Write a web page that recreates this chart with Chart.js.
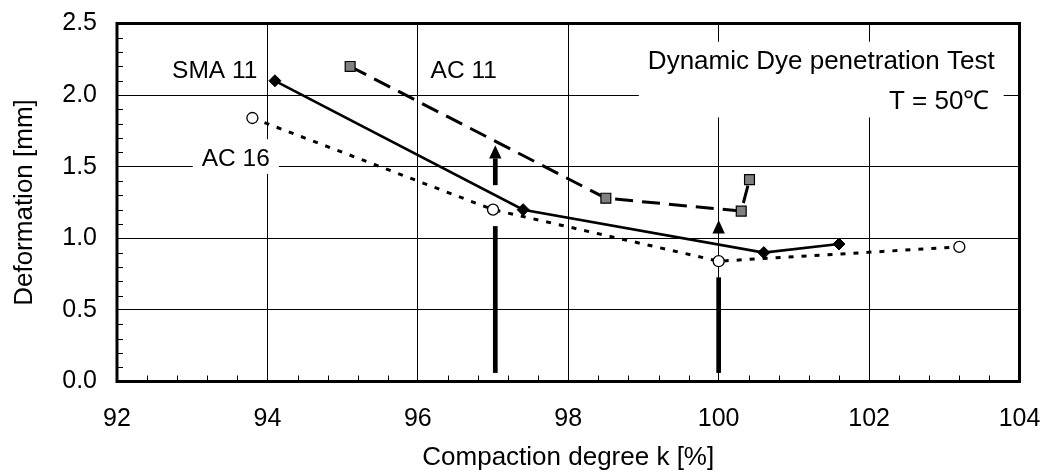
<!DOCTYPE html>
<html>
<head>
<meta charset="utf-8">
<title>Dynamic Dye penetration Test</title>
<script src="https://cdn.jsdelivr.net/npm/chart.js@4.4.1/dist/chart.umd.min.js"></script>
<style>
  html, body { margin: 0; padding: 0; background: #fff; }
  #wrap { width: 1043px; height: 472px; position: relative; }
</style>
</head>
<body>
<div id="wrap"><canvas id="deform_canvas"></canvas></div>
<script>
// values
var smaK   = [94.1, 97.4, 100.6, 101.6];
var smaDef = [2.10, 1.20, 0.90, 0.96];
var ac11K   = [95.1, 98.5, 100.3, 100.41];
var ac11Def = [2.20, 1.28, 1.19, 1.41];
var ac16K   = [93.8, 97.0, 100.0, 103.2];
var ac16Def = [1.84, 1.20, 0.84, 0.94];

var xTicks = [92, 94, 96, 98, 100, 102, 104];
var yTicks = [0.0, 0.5, 1.0, 1.5, 2.0, 2.5];

// the two upward arrows (k, foot, gap start, gap end, head base, tip)
var arrowK        = [97.03, 100.0];
var arrowFoot     = [0.06, 0.06];
var arrowGapLow   = [1.085, 0.727];
var arrowGapHigh  = [1.371, 1.034];
var arrowHeadBase = [1.558, 1.034];
var arrowTip      = [1.650, 1.127];

// text notes inside the plot
var noteText  = ['SMA 11', 'AC 11', 'AC 16', 'Dynamic Dye penetration Test', 'T = 50\u2103'];
var noteK     = [93.30, 96.61, 93.58, 103.67, 103.60];
var noteDef   = [2.116, 2.116, 1.506, 2.179, 1.900];
var noteAlign = ['center', 'center', 'center', 'right', 'right'];
var noteGroup = [0, 1, 2, 3, 3];

var FONT = '"Liberation Sans", Arial, sans-serif';
var noteSize = [24.5, 24.5, 24.5, 26, 26];

function pts(xs, ys) {
    var out = [];
    for (var i = 0; i < xs.length; i++) {
        out.push({x: xs[i], y: ys[i]});
    }
    return out;
}

var notesPlugin = {
    id: 'notes',
    beforeDatasetsDraw: function(chart) {
        var ctx = chart.ctx, sx = chart.scales.x, sy = chart.scales.y;
        var boxes = {};
        ctx.save();
        for (var i = 0; i < noteText.length; i++) {
            ctx.font = noteSize[i] + 'px ' + FONT;
            var w = ctx.measureText(noteText[i]).width;
            var px = sx.getPixelForValue(noteK[i]);
            var py = sy.getPixelForValue(noteDef[i]);
            var left = noteAlign[i] === 'center' ? px - w / 2 : px - w;
            var b = {l: left - 9, r: left + w + 9, t: py - 0.72 * noteSize[i] - 9, b: py + 8};
            var g = boxes[noteGroup[i]];
            if (!g) {
                boxes[noteGroup[i]] = b;
            } else {
                g.l = Math.min(g.l, b.l); g.r = Math.max(g.r, b.r);
                g.t = Math.min(g.t, b.t); g.b = Math.max(g.b, b.b);
            }
        }
        ctx.fillStyle = '#fff';
        for (var k in boxes) {
            var bb = boxes[k];
            ctx.fillRect(bb.l, bb.t, bb.r - bb.l, bb.b - bb.t);
        }
        ctx.fillStyle = '#000';
        ctx.textBaseline = 'alphabetic';
        for (var j = 0; j < noteText.length; j++) {
            ctx.font = noteSize[j] + 'px ' + FONT;
            ctx.textAlign = noteAlign[j];
            ctx.fillText(noteText[j], sx.getPixelForValue(noteK[j]), sy.getPixelForValue(noteDef[j]));
        }
        ctx.restore();
    }
};

var arrowsPlugin = {
    id: 'arrows',
    afterDatasetsDraw: function(chart) {
        var ctx = chart.ctx, sx = chart.scales.x, sy = chart.scales.y;
        var shaft = 4.7, head = 6.2;
        ctx.save();
        ctx.fillStyle = '#000';
        for (var i = 0; i < arrowK.length; i++) {
            var x = sx.getPixelForValue(arrowK[i]);
            var yFoot = sy.getPixelForValue(arrowFoot[i]);
            var yLow = sy.getPixelForValue(arrowGapLow[i]);
            var yHigh = sy.getPixelForValue(arrowGapHigh[i]);
            var yBase = sy.getPixelForValue(arrowHeadBase[i]);
            var yTip = sy.getPixelForValue(arrowTip[i]);
            ctx.fillRect(x - shaft / 2, yLow, shaft, yFoot - yLow);
            if (yHigh > yBase) {
                ctx.fillRect(x - shaft / 2, yBase, shaft, yHigh - yBase);
            }
            ctx.beginPath();
            ctx.moveTo(x - head, yBase);
            ctx.lineTo(x + head, yBase);
            ctx.lineTo(x, yTip);
            ctx.closePath();
            ctx.fill();
        }
        ctx.restore();
    }
};

var framePlugin = {
    id: 'frame',
    afterDraw: function(chart) {
        var ctx = chart.ctx, a = chart.chartArea;
        var sx = chart.scales.x, sy = chart.scales.y;
        ctx.save();
        // minor ticks, pointing into the plot
        ctx.strokeStyle = '#000';
        ctx.lineWidth = 1;
        ctx.beginPath();
        var v, p;
        for (var i = 1; i < 30; i++) {
            v = xTicks[0] + i * 0.4;
            if (i % 5 === 0) continue;
            p = Math.round(sx.getPixelForValue(v)) + 0.5;
            ctx.moveTo(p, a.bottom);
            ctx.lineTo(p, a.bottom - 6);
        }
        for (var j = 1; j < 25; j++) {
            v = yTicks[0] + j * 0.1;
            if (j % 5 === 0) continue;
            p = Math.round(sy.getPixelForValue(v)) + 0.5;
            ctx.moveTo(a.left, p);
            ctx.lineTo(a.left + 6, p);
        }
        ctx.stroke();
        // thick frame
        ctx.lineWidth = 3;
        ctx.strokeRect(a.left, a.top, a.right - a.left, a.bottom - a.top);
        ctx.restore();
    }
};

Chart.defaults.font.family = FONT;
Chart.defaults.color = '#000';

var ctx1 = document.getElementById('deform_canvas');

var chart = new Chart(ctx1, {
    type: 'scatter',
    data: {
        datasets: [
            {
                label: 'SMA 11',
                data: pts(smaK, smaDef),
                showLine: true,
                borderColor: '#000',
                borderWidth: 2.6,
                pointStyle: 'rectRot',
                pointRadius: 6,
                pointBackgroundColor: '#000',
                pointBorderColor: '#000',
                pointBorderWidth: 1
            },
            {
                label: 'AC 11',
                data: pts(ac11K, ac11Def),
                showLine: true,
                borderColor: '#000',
                borderWidth: 3,
                borderDash: [18, 9],
                pointStyle: 'rect',
                pointRadius: 7,
                pointBackgroundColor: '#808080',
                pointBorderColor: '#000',
                pointBorderWidth: 1.2
            },
            {
                label: 'AC 16',
                data: pts(ac16K, ac16Def),
                showLine: true,
                borderColor: '#000',
                borderWidth: 3,
                borderDash: [5, 8],
                pointStyle: 'circle',
                pointRadius: 5.5,
                pointBackgroundColor: '#fff',
                pointBorderColor: '#000',
                pointBorderWidth: 1.3
            }
        ]
    },
    options: {
        responsive: true,
        maintainAspectRatio: false,
        animation: false,
        layout: { padding: { top: 23.5, right: 23.5, left: 0, bottom: 0 } },
        plugins: {
            legend: { display: false },
            tooltip: { enabled: false }
        },
        elements: { line: { tension: 0 } },
        scales: {
            x: {
                type: 'linear',
                min: xTicks[0],
                max: xTicks[xTicks.length - 1],
                afterBuildTicks: function(s) { s.ticks = xTicks.map(function(v) { return {value: v}; }); },
                afterFit: function(s) { s.height = 90.5; s.paddingLeft = 0; s.paddingRight = 0; },
                ticks: {
                    font: { size: 25 },
                    padding: 23,
                    maxRotation: 0,
                    callback: function(v) { return String(v); }
                },
                grid: { color: '#000', lineWidth: 1, drawTicks: false },
                border: { display: false },
                title: {
                    display: true,
                    text: 'Compaction degree k [%]',
                    font: { size: 26, lineHeight: 1 },
                    padding: { top: 0, bottom: 1 }
                }
            },
            y: {
                type: 'linear',
                min: yTicks[0],
                max: yTicks[yTicks.length - 1],
                afterBuildTicks: function(s) { s.ticks = yTicks.map(function(v) { return {value: v}; }); },
                afterFit: function(s) { s.width = 117; s.paddingTop = 0; s.paddingBottom = 0; },
                ticks: {
                    font: { size: 25 },
                    padding: 20,
                    callback: function(v) { return Number(v).toFixed(1); }
                },
                grid: { color: '#000', lineWidth: 1, drawTicks: false },
                border: { display: false },
                title: {
                    display: true,
                    text: 'Deformation [mm]',
                    font: { size: 26 },
                    padding: { top: 9, bottom: 0 }
                }
            }
        }
    },
    plugins: [notesPlugin, arrowsPlugin, framePlugin]
});
</script>
</body>
</html>
